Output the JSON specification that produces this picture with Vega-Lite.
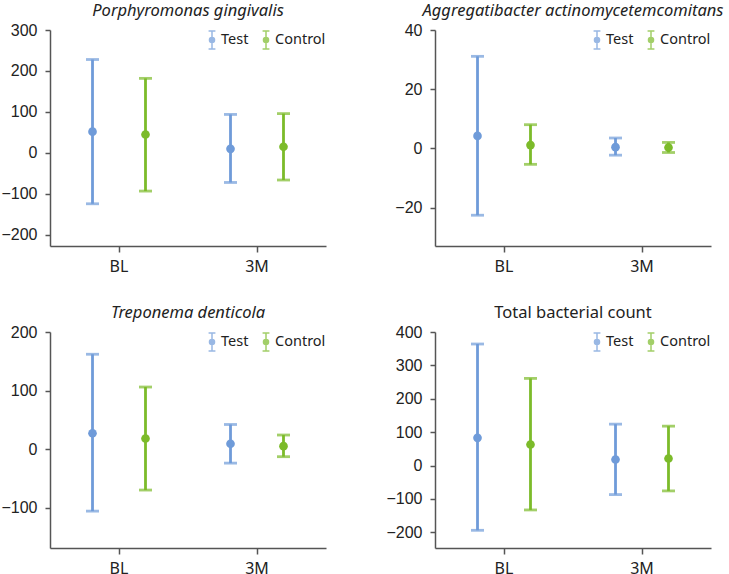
{
  "$schema": "https://vega.github.io/schema/vega-lite/v6.json",
  "padding": {"top": 2, "left": 0, "right": 0, "bottom": 0},
  "background": "white",
  "datasets": {
    "bact": [
      {"panel": "Pg", "time": "BL", "group": "Test", "mean": 52, "lo": -124, "hi": 228},
      {"panel": "Pg", "time": "BL", "group": "Control", "mean": 45, "lo": -93, "hi": 182},
      {"panel": "Pg", "time": "3M", "group": "Test", "mean": 10, "lo": -72, "hi": 94},
      {"panel": "Pg", "time": "3M", "group": "Control", "mean": 15, "lo": -66, "hi": 96},
      {"panel": "Aa", "time": "BL", "group": "Test", "mean": 4.2, "lo": -22.6, "hi": 31.1},
      {"panel": "Aa", "time": "BL", "group": "Control", "mean": 1.1, "lo": -5.4, "hi": 8.0},
      {"panel": "Aa", "time": "3M", "group": "Test", "mean": 0.4, "lo": -2.3, "hi": 3.5},
      {"panel": "Aa", "time": "3M", "group": "Control", "mean": 0.3, "lo": -1.4, "hi": 2.0},
      {"panel": "Td", "time": "BL", "group": "Test", "mean": 27, "lo": -106, "hi": 162},
      {"panel": "Td", "time": "BL", "group": "Control", "mean": 18, "lo": -70, "hi": 106},
      {"panel": "Td", "time": "3M", "group": "Test", "mean": 9, "lo": -24, "hi": 42},
      {"panel": "Td", "time": "3M", "group": "Control", "mean": 5, "lo": -13, "hi": 24},
      {"panel": "Total", "time": "BL", "group": "Test", "mean": 83, "lo": -194, "hi": 364},
      {"panel": "Total", "time": "BL", "group": "Control", "mean": 63, "lo": -133, "hi": 261},
      {"panel": "Total", "time": "3M", "group": "Test", "mean": 18, "lo": -87, "hi": 124},
      {"panel": "Total", "time": "3M", "group": "Control", "mean": 21, "lo": -76, "hi": 118}
    ]
  },
  "data": {"name": "bact"},
  "columns": 2,
  "spacing": {"row": 30, "column": 59},
  "resolve": {"scale": {"color": "independent", "y": "independent", "x": "independent"}, "legend": {"color": "independent"}},
  "concat": [
    {
      "title": {"text": "Porphyromonas gingivalis", "fontStyle": "italic"},
      "width": 276, "height": 216,
      "transform": [{"filter": "datum.panel === 'Pg'"}],
      "encoding": {
        "x": {"field": "time", "type": "nominal", "title": null, "scale": {"domain": ["BL", "3M"], "paddingInner": 0, "paddingOuter": 0}},
        "xOffset": {"field": "group", "type": "nominal", "scale": {"domain": ["Test", "Control"], "paddingInner": 0, "paddingOuter": 0.302}},
        "color": {"field": "group", "type": "nominal", "scale": {"domain": ["Test", "Control"], "range": ["#6f9bd9", "#7cbb2a"]}, "legend": {"title": null}}
      },
      "layer": [
        {"mark": {"type": "rule", "strokeWidth": 2.8}, "encoding": {"y": {"field": "lo", "type": "quantitative", "title": null, "scale": {"domain": [-227, 300], "nice": false, "zero": false}, "axis": {"values": [-200, -100, 0, 100, 200, 300]}}, "y2": {"field": "hi"}}},
        {"mark": {"type": "tick", "thickness": 2.8, "size": 13}, "encoding": {"y": {"field": "lo", "type": "quantitative", "title": null, "scale": {"domain": [-227, 300], "nice": false, "zero": false}, "axis": {"values": [-200, -100, 0, 100, 200, 300]}}}},
        {"mark": {"type": "tick", "thickness": 2.8, "size": 13}, "encoding": {"y": {"field": "hi", "type": "quantitative", "title": null, "scale": {"domain": [-227, 300], "nice": false, "zero": false}, "axis": {"values": [-200, -100, 0, 100, 200, 300]}}}},
        {"mark": {"type": "point", "filled": true, "size": 75, "opacity": 1}, "encoding": {"y": {"field": "mean", "type": "quantitative", "title": null, "scale": {"domain": [-227, 300], "nice": false, "zero": false}, "axis": {"values": [-200, -100, 0, 100, 200, 300]}}}}
      ]
    },
    {
      "title": {"text": "Aggregatibacter actinomycetemcomitans", "fontStyle": "italic"},
      "width": 276, "height": 216,
      "transform": [{"filter": "datum.panel === 'Aa'"}],
      "encoding": {
        "x": {"field": "time", "type": "nominal", "title": null, "scale": {"domain": ["BL", "3M"], "paddingInner": 0, "paddingOuter": 0}},
        "xOffset": {"field": "group", "type": "nominal", "scale": {"domain": ["Test", "Control"], "paddingInner": 0, "paddingOuter": 0.302}},
        "color": {"field": "group", "type": "nominal", "scale": {"domain": ["Test", "Control"], "range": ["#6f9bd9", "#7cbb2a"]}, "legend": {"title": null}}
      },
      "layer": [
        {"mark": {"type": "rule", "strokeWidth": 2.8}, "encoding": {"y": {"field": "lo", "type": "quantitative", "title": null, "scale": {"domain": [-33, 40], "nice": false, "zero": false}, "axis": {"values": [-20, 0, 20, 40]}}, "y2": {"field": "hi"}}},
        {"mark": {"type": "tick", "thickness": 2.8, "size": 13}, "encoding": {"y": {"field": "lo", "type": "quantitative", "title": null, "scale": {"domain": [-33, 40], "nice": false, "zero": false}, "axis": {"values": [-20, 0, 20, 40]}}}},
        {"mark": {"type": "tick", "thickness": 2.8, "size": 13}, "encoding": {"y": {"field": "hi", "type": "quantitative", "title": null, "scale": {"domain": [-33, 40], "nice": false, "zero": false}, "axis": {"values": [-20, 0, 20, 40]}}}},
        {"mark": {"type": "point", "filled": true, "size": 75, "opacity": 1}, "encoding": {"y": {"field": "mean", "type": "quantitative", "title": null, "scale": {"domain": [-33, 40], "nice": false, "zero": false}, "axis": {"values": [-20, 0, 20, 40]}}}}
      ]
    },
    {
      "title": {"text": "Treponema denticola", "fontStyle": "italic"},
      "width": 276, "height": 216,
      "transform": [{"filter": "datum.panel === 'Td'"}],
      "encoding": {
        "x": {"field": "time", "type": "nominal", "title": null, "scale": {"domain": ["BL", "3M"], "paddingInner": 0, "paddingOuter": 0}},
        "xOffset": {"field": "group", "type": "nominal", "scale": {"domain": ["Test", "Control"], "paddingInner": 0, "paddingOuter": 0.302}},
        "color": {"field": "group", "type": "nominal", "scale": {"domain": ["Test", "Control"], "range": ["#6f9bd9", "#7cbb2a"]}, "legend": {"title": null}}
      },
      "layer": [
        {"mark": {"type": "rule", "strokeWidth": 2.8}, "encoding": {"y": {"field": "lo", "type": "quantitative", "title": null, "scale": {"domain": [-169, 200], "nice": false, "zero": false}, "axis": {"values": [-100, 0, 100, 200]}}, "y2": {"field": "hi"}}},
        {"mark": {"type": "tick", "thickness": 2.8, "size": 13}, "encoding": {"y": {"field": "lo", "type": "quantitative", "title": null, "scale": {"domain": [-169, 200], "nice": false, "zero": false}, "axis": {"values": [-100, 0, 100, 200]}}}},
        {"mark": {"type": "tick", "thickness": 2.8, "size": 13}, "encoding": {"y": {"field": "hi", "type": "quantitative", "title": null, "scale": {"domain": [-169, 200], "nice": false, "zero": false}, "axis": {"values": [-100, 0, 100, 200]}}}},
        {"mark": {"type": "point", "filled": true, "size": 75, "opacity": 1}, "encoding": {"y": {"field": "mean", "type": "quantitative", "title": null, "scale": {"domain": [-169, 200], "nice": false, "zero": false}, "axis": {"values": [-100, 0, 100, 200]}}}}
      ]
    },
    {
      "title": {"text": "Total bacterial count", "fontStyle": "normal"},
      "width": 276, "height": 216,
      "transform": [{"filter": "datum.panel === 'Total'"}],
      "encoding": {
        "x": {"field": "time", "type": "nominal", "title": null, "scale": {"domain": ["BL", "3M"], "paddingInner": 0, "paddingOuter": 0}},
        "xOffset": {"field": "group", "type": "nominal", "scale": {"domain": ["Test", "Control"], "paddingInner": 0, "paddingOuter": 0.302}},
        "color": {"field": "group", "type": "nominal", "scale": {"domain": ["Test", "Control"], "range": ["#6f9bd9", "#7cbb2a"]}, "legend": {"title": null}}
      },
      "layer": [
        {"mark": {"type": "rule", "strokeWidth": 2.8}, "encoding": {"y": {"field": "lo", "type": "quantitative", "title": null, "scale": {"domain": [-247, 400], "nice": false, "zero": false}, "axis": {"values": [-200, -100, 0, 100, 200, 300, 400]}}, "y2": {"field": "hi"}}},
        {"mark": {"type": "tick", "thickness": 2.8, "size": 13}, "encoding": {"y": {"field": "lo", "type": "quantitative", "title": null, "scale": {"domain": [-247, 400], "nice": false, "zero": false}, "axis": {"values": [-200, -100, 0, 100, 200, 300, 400]}}}},
        {"mark": {"type": "tick", "thickness": 2.8, "size": 13}, "encoding": {"y": {"field": "hi", "type": "quantitative", "title": null, "scale": {"domain": [-247, 400], "nice": false, "zero": false}, "axis": {"values": [-200, -100, 0, 100, 200, 300, 400]}}}},
        {"mark": {"type": "point", "filled": true, "size": 75, "opacity": 1}, "encoding": {"y": {"field": "mean", "type": "quantitative", "title": null, "scale": {"domain": [-247, 400], "nice": false, "zero": false}, "axis": {"values": [-200, -100, 0, 100, 200, 300, 400]}}}}
      ]
    }
  ],
  "config": {
    "view": {"stroke": null},
    "axis": {"grid": false, "domainColor": "#555555", "tickColor": "#555555", "labelColor": "#222222", "domainWidth": 1.5, "tickWidth": 1.5},
    "axisY": {"labelFont": "Liberation Sans", "labelFontSize": 16, "tickSize": 5, "labelPadding": 8, "minExtent": 50, "maxExtent": 50, "labelOverlap": false},
    "axisX": {"labelFont": "Noto Sans", "labelFontSize": 16, "tickSize": 6, "labelPadding": 6, "labelAngle": 0},
    "title": {"font": "Noto Sans", "fontSize": 16.5, "fontWeight": "normal", "color": "#222222", "offset": 3},
    "legend": {
      "orient": "top-right", "direction": "horizontal", "offset": 0, "padding": 0,
      "symbolType": "M0,-1V1M-0.38,-1H0.38M-0.38,1H0.38M0.28,0A0.28,0.28,0,1,1,-0.28,0A0.28,0.28,0,1,1,0.28,0Z",
      "symbolSize": 324, "symbolStrokeWidth": 1.5,
      "labelFont": "Noto Sans", "labelFontSize": 14.5, "labelColor": "#222222", "labelOffset": -1, "columnPadding": 7
    }
  }
}
